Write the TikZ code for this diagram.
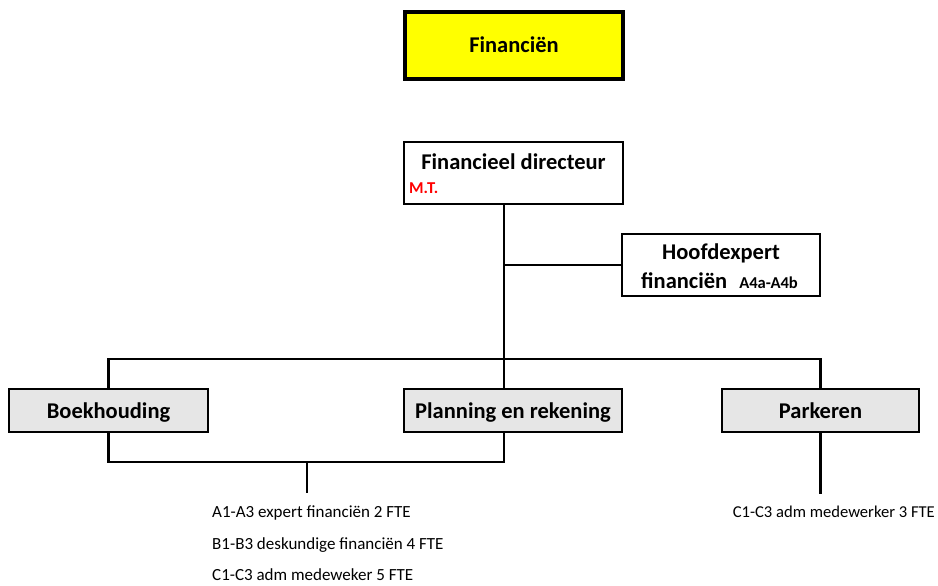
\documentclass[tikz,border=0pt]{standalone}
\usepackage{fontspec}
\setmainfont{Carlito}
\definecolor{orgYellow}{RGB}{255,255,0}
\definecolor{orgGray}{RGB}{230,230,230}
\definecolor{orgRed}{RGB}{255,0,0}

\begin{document}
\begin{tikzpicture}[x=1pt,y=-1pt,
  orgbox/.style={draw, line width=2.2pt, inner sep=0pt},
  unitbox/.style={orgbox, fill=orgGray, minimum height=43pt},
  link/.style={line width=2.2pt},
  headtxt/.style={font={\fontsize{22.5}{27}\selectfont\bfseries}, anchor=base, inner sep=0pt},
  smalltxt/.style={font={\fontsize{17}{20}\selectfont}, anchor=base west, inner sep=0pt}]
\useasboundingbox (0,0) rectangle (938,586);
% boxes
\node[orgbox, fill=orgYellow, line width=3.2pt, minimum width=218pt, minimum height=67pt] (fin) at (514,45.5) {};
\node[headtxt] (fint) at (514,53) {Financiën};
\node[orgbox, minimum width=219pt, minimum height=62pt] (dir) at (513.5,173) {};
\node[headtxt] (dirt) at (513.5,169) {Financieel directeur};
\node[headtxt, anchor=base west, font={\fontsize{16.6}{20}\selectfont\bfseries}, text=orgRed] (mt) at (409,193) {M.T.};
\node[orgbox, minimum width=198pt, minimum height=62pt] (hoofd) at (721,265) {};
\node[headtxt] (hoofdt) at (721,259) {Hoofdexpert};
\node[headtxt, anchor=base west] (hoofdf) at (641,288) {financiën\hspace{12pt}{\fontsize{16.6}{20}\selectfont A4a-A4b}};
\node[unitbox, minimum width=199pt] (boek) at (108.5,410.5) {};
\node[headtxt] (boekt) at (108.5,418) {Boekhouding};
\node[unitbox, minimum width=218pt] (plan) at (513,410.5) {};
\node[headtxt] (plant) at (513,418) {Planning en rekening};
\node[unitbox, minimum width=197pt] (park) at (820.5,410.5) {};
\node[headtxt] (parkt) at (820.5,418) {Parkeren};
% staffing
\node[smalltxt] (staffa) at (212,517) {A1-A3 expert financiën 2 FTE};
\node[smalltxt] (staffb) at (212,549) {B1-B3 deskundige financiën 4 FTE};
\node[smalltxt] (staffc) at (212,580) {C1-C3 adm medeweker 5 FTE};
\node[smalltxt, anchor=base east, font={\fontsize{16.6}{20}\selectfont}] (staffp) at (935,517) {C1-C3 adm medewerker 3 FTE};
% lines
\coordinate (spine) at (504,359);
\coordinate (grp) at (307,462);
\coordinate (grpend) at (307,493);
\coordinate (parkend) at (820,494);
\draw[link] (dir.south -| spine) -- (spine |- plan.north);
\draw[link] (spine |- hoofd.west) -- (hoofd.west);
\draw[link] (boek.north) -- (boek.north |- spine) -- (park.north |- spine) -- (park.north);
\draw[link] (boek.south) -- (boek.south |- grp) -- (spine |- grp) -- (spine |- plan.south);
\draw[link] (grp) -- (grpend);
\draw[link] (park.south) -- (park.south |- parkend);
\end{tikzpicture}
\end{document}
